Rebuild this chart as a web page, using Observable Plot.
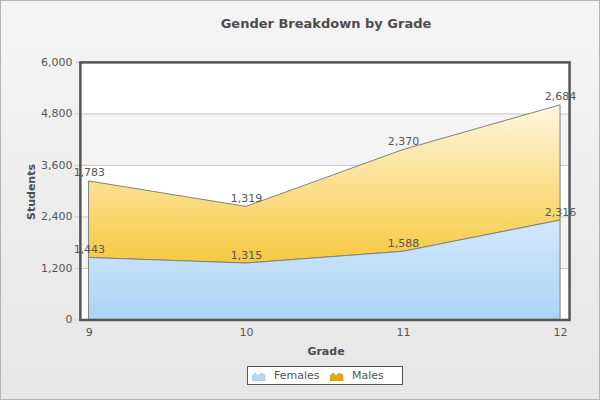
<!DOCTYPE html>
<html>
<head>
<meta charset="utf-8">
<script src="https://cdn.jsdelivr.net/npm/d3@7"></script>
<script src="https://cdn.jsdelivr.net/npm/@observablehq/plot@0.6"></script>
<style>
  html, body { margin: 0; padding: 0; }
  #wrap {
    position: relative; width: 600px; height: 400px; box-sizing: border-box;
    border: 1px solid #b4b4b4;
    background: linear-gradient(to bottom, #f4f4f4 0%, #e6e6e6 100%);
    font-family: "DejaVu Sans", Verdana, sans-serif; color: #555;
    overflow: hidden;
  }
  #chart { position: absolute; left: -1px; top: -1px; }
  .title { position: absolute; left: 0; top: 15px; width: 650px; text-align: center;
    font-weight: bold; font-size: 13px; color: #4d4d4d; }
  .xlab { position: absolute; left: 0; top: 344px; width: 650px; text-align: center;
    font-weight: bold; font-size: 11px; color: #4d4d4d; }
  .ylab { position: absolute; left: 30px; top: 191px; transform: translate(-50%, -50%) rotate(-90deg);
    font-weight: bold; font-size: 11px; color: #4d4d4d; white-space: nowrap; }
  .legend { position: absolute; left: 246px; top: 365px; width: 156px; height: 19px;
    box-sizing: border-box; border: 1px solid #555; background: #fff; font-size: 11px; color: #555; }
  .legend span.item { position: absolute; top: 2px; }
  .legend svg { position: absolute; }
</style>
</head>
<body>
<div id="wrap">
  <div id="chart"></div>
  <div class="title">Gender Breakdown by Grade</div>
  <div class="ylab">Students</div>
  <div class="xlab">Grade</div>
  <div class="legend">
    <svg style="left:4px;top:4px" width="14" height="10"><path d="M0,10 L0,5 L3,2 L6,5 L9,2 L13,4 L13,10 Z" fill="#b5d7f3" stroke="#9cc4e6" stroke-width="0.6"/></svg>
    <span class="item" style="left:26px">Females</span>
    <svg style="left:82px;top:4px" width="14" height="10"><path d="M0,10 L0,5 L3,2 L6,5 L9,2 L13,4 L13,10 Z" fill="#e3aa10" stroke="#c99400" stroke-width="0.6"/></svg>
    <span class="item" style="left:104px">Males</span>
  </div>
</div>
<script>
const grades = [9, 10, 11, 12];
const females = [1443, 1315, 1588, 2316];
const males = [1783, 1319, 2370, 2684];
const yTicks = [0, 1200, 2400, 3600, 4800, 6000];

const rows = grades.map((g, i) => ({
  grade: g,
  f: females[i],
  m: males[i],
  total: females[i] + males[i]
}));
const bands = yTicks.slice(0, -1).map((t, i) => ({y1: t, y2: yTicks[i + 1], shade: i % 2 === 1}))
  .filter(d => d.shade);

const fmt = d3.format(",");

const defs = () => {
  const svg = d3.create("svg:defs");
  const gF = svg.append("linearGradient").attr("id", "gradF").attr("x1", 0).attr("x2", 0).attr("y1", 0).attr("y2", 1);
  gF.append("stop").attr("offset", "0%").attr("stop-color", "#d2e8fb");
  gF.append("stop").attr("offset", "100%").attr("stop-color", "#acd4f5");
  const gM = svg.append("linearGradient").attr("id", "gradM").attr("x1", 0).attr("x2", 0).attr("y1", 0).attr("y2", 1);
  gM.append("stop").attr("offset", "0%").attr("stop-color", "#fef6de");
  gM.append("stop").attr("offset", "100%").attr("stop-color", "#f7c940");
  return svg.node();
};

const chart = Plot.plot({
  width: 600,
  height: 400,
  marginLeft: 80,
  marginRight: 30,
  marginTop: 62,
  marginBottom: 80,
  style: {background: "transparent", fontFamily: "DejaVu Sans, Verdana, sans-serif", fontSize: "11px", color: "#555"},
  x: {domain: [9, 12], insetLeft: 9, insetRight: 9},
  y: {domain: [0, 6000]},
  marks: [
    defs,
    Plot.frame({fill: "#fff"}),
    Plot.rect(bands, {y1: "y1", y2: "y2", fill: "#f4f4f4"}),
    Plot.ruleY(yTicks.slice(1, -1), {stroke: "#c8c8c8"}),
    Plot.axisY({ticks: yTicks, tickFormat: d => fmt(d), tickSize: 5, tickPadding: 3, stroke: "#c8c8c8", label: null, color: "#555"}),
    Plot.axisX({ticks: grades, tickFormat: d => String(d), tickSize: 0, tickPadding: 8, label: null}),
    Plot.areaY(rows, {x: "grade", y1: "f", y2: "total", fill: "url(#gradM)", stroke: "#808080", strokeWidth: 1}),
    Plot.areaY(rows, {x: "grade", y1: 0, y2: "f", fill: "url(#gradF)", stroke: "#808080", strokeWidth: 1}),
    Plot.text(rows, {x: "grade", y: "total", text: d => fmt(d.m), lineAnchor: "bottom", dy: -5, fill: "#555"}),
    Plot.text(rows, {x: "grade", y: "f", text: d => fmt(d.f), lineAnchor: "bottom", dy: -5, fill: "#555"}),
    Plot.frame({stroke: "#555", strokeWidth: 2.5})
  ]
});
document.getElementById("chart").appendChild(chart);
</script>
</body>
</html>
